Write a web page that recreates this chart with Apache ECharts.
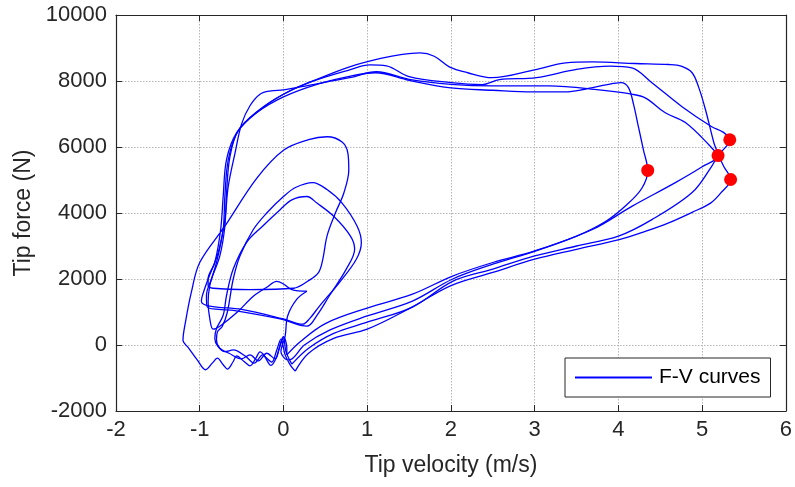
<!DOCTYPE html>
<html><head><meta charset="utf-8">
<script src="https://cdn.jsdelivr.net/npm/echarts@6/dist/echarts.min.js"></script>
<style>html,body{margin:0;padding:0;background:#fff}#c{width:795px;height:487px}</style>
</head><body><div id="c"></div>
<script>
// Tick values
const xTicks = [-2, -1, 0, 1, 2, 3, 4, 5, 6];
const yTicks = [-2000, 0, 2000, 4000, 6000, 8000, 10000];

// Cycle 1: hook start -> diagonal -> dot 1 -> top -> left bundle -> big inner loop -> wiggles
const curve1 = [
  [0.28,1630],[0.16,1390],[0.05,880],[0.02,270],[-0.03,-200],[0.02,-420],[0.07,-450],
  [0.25,0],[0.55,450],[1.0,880],[1.54,1330],[2.02,2000],[2.5,2450],[3.0,2840],[3.5,3300],
  [3.85,3750],[4.1,4250],[4.28,4750],[4.35,5290],
  [4.3,5900],[4.24,6600],[4.18,7300],[4.12,7800],[4.03,7950],[3.85,7880],[3.6,7750],[3.37,7670],
  [2.97,7670],[2.5,7720],[2.0,7790],[1.5,8020],[1.1,8250],[0.8,8150],[0.4,7900],[0.0,7520],
  [-0.32,7040],[-0.56,6430],[-0.68,5620],[-0.72,4500],[-0.75,3500],[-0.82,2500],[-0.9,2000],
  [-0.9,1800],[-0.84,1720],[-0.4,1680],[0.12,1720],[0.3,1950],[0.42,2200],[0.47,2600],
  [0.52,3300],[0.62,4000],[0.72,4600],[0.78,5300],[0.77,5800],[0.7,6150],[0.52,6310],
  [0.3,6220],[0.0,5900],[-0.32,5050],[-0.7,3600],[-1.0,2500],[-1.1,1600],[-1.17,700],
  [-1.2,150],[-1.13,-100],[-1.03,-450],[-0.93,-750],[-0.85,-550],[-0.79,-400],[-0.72,-600],
  [-0.67,-730],[-0.6,-500],[-0.56,-330],[-0.47,-500],[-0.4,-630],[-0.33,-400],[-0.28,-210],
  [-0.2,-400],[-0.14,-520],[-0.08,-150],[-0.03,180],[0.02,-300],[0.08,-600],[0.14,-790]
];

// Cycle 2: lower diagonal -> dot 4 -> through dot 2 -> top -> outer strand -> second loop
const curve2 = [
  [0.14,-790],[0.3,-250],[0.6,200],[1.0,480],[1.5,1100],[2.0,1800],[2.5,2200],[3.0,2600],
  [3.5,2900],[4.02,3200],[4.32,3440],[4.6,3700],[4.88,4020],[5.1,4300],[5.22,4600],[5.34,5015],
  [5.26,5400],[5.19,5740],[5.08,6070],[4.8,6740],[4.56,7040],[4.32,7490],[4.16,7600],
  [3.77,7730],[3.17,7850],[2.5,7850],[2.0,7900],[1.5,8050],[1.11,8280],[0.79,8100],
  [0.3,7870],[0.0,7730],[-0.15,7700],[-0.28,7600],[-0.4,7250],[-0.5,6700],[-0.58,5800],
  [-0.66,4800],[-0.7,3800],[-0.78,2800],[-0.9,2000],[-0.97,1480],[-0.98,1320],[-0.88,1180],
  [-0.5,1080],[0.0,790],[0.23,630],[0.31,790],[0.43,1180],[0.67,1900],[0.87,2600],
  [0.93,3100],[0.88,3600],[0.7,4300],[0.52,4710],[0.35,4920],[0.15,4780],[0.0,4500],
  [-0.2,4000],[-0.36,3500],[-0.52,2700],[-0.6,2000],[-0.67,1000],[-0.73,570],[-0.79,390],
  [-0.8,150],[-0.76,-100],[-0.65,-250],[-0.5,-420],[-0.4,-300],[-0.3,-480],[-0.2,-250],
  [-0.1,-420],[-0.05,-100],[0.0,220],[0.03,-200],[0.1,-580]
];

// Cycle 3: middle diagonal -> dot 3 -> top -> bundle -> third loop
const curve3 = [
  [0.1,-580],[0.3,-100],[0.6,350],[1.0,690],[1.54,1150],[2.02,1930],[2.5,2300],[3.0,2700],
  [3.5,3000],[4.0,3300],[4.4,3800],[4.88,4620],[5.11,5400],[5.19,5740],[5.33,6220],
  [5.25,6450],[5.11,6620],[4.76,7220],[4.4,7950],[4.16,8400],[3.9,8450],[3.5,8350],
  [3.02,8100],[2.58,8040],[2.37,7890],[2.0,7950],[1.5,8130],[1.23,8460],[1.03,8490],
  [0.79,8340],[0.3,7950],[0.0,7600],[-0.3,7100],[-0.54,6500],[-0.64,5700],[-0.68,4600],
  [-0.7,3600],[-0.76,2700],[-0.86,2000],[-0.92,1500],[-0.91,1150],[-0.6,1050],[-0.04,790],
  [0.28,570],[0.4,900],[0.55,1500],[0.75,2300],[0.85,2900],[0.8,3300],[0.6,3900],
  [0.4,4300],[0.28,4500],[0.1,4400],[-0.04,4100],[-0.25,3600],[-0.44,3110],[-0.6,2300],
  [-0.68,1500],[-0.72,900],[-0.8,500],[-0.82,200],[-0.78,-50],[-0.7,-200],[-0.6,-150],
  [-0.45,-350],[-0.35,-550],[-0.25,-300],[-0.15,-620],[-0.08,-350],[-0.03,100],[0.0,250],
  [0.04,-100],[0.04,-300]
];

// Cycle 4: upper diagonal -> dot 2 -> highest top -> bundle -> hook
const curve4 = [
  [0.04,-300],[0.2,100],[0.5,650],[1.0,1120],[1.54,1540],[2.02,2090],[2.5,2500],[3.0,2850],
  [3.69,3500],[4.16,4200],[4.68,4920],[5.0,5400],[5.19,5740],
  [5.14,6130],[5.04,7130],[4.96,7800],[4.88,8250],[4.75,8450],[4.6,8500],[4.2,8530],
  [3.69,8580],[3.37,8550],[3.0,8340],[2.49,8100],[2.2,8250],[1.98,8430],[1.8,8750],
  [1.63,8850],[1.4,8800],[1.19,8700],[0.79,8430],[0.4,8050],[0.0,7600],[-0.3,7100],
  [-0.55,6450],[-0.66,5600],[-0.7,4500],[-0.72,3500],[-0.8,2500],[-0.88,1800],[-0.9,1300],
  [-0.88,800],[-0.84,480],[-0.76,570],[-0.55,1000],[-0.36,1480],[-0.2,1750],[-0.08,1930],
  [0.0,1850],[0.1,1680],[0.28,1630]
];

// Red markers
const markers = [[4.35,5290],[5.19,5740],[5.33,6220],[5.34,5015]];

const seriesName = 'F-V curves';
const curves = [curve1, curve2, curve3, curve4];
const FONT = 'Liberation Sans, Arial, Helvetica, sans-serif';
const axisCol = '#262626';

const chart = echarts.init(document.getElementById('c'), null, {renderer: 'canvas'});
const lineSeries = curves.map(c => ({
  name: seriesName, type: 'line', data: c, smooth: 0.35, symbol: 'none',
  lineStyle: {color: '#0000ff', width: 1.3}, itemStyle: {color: '#0000ff'},
  z: 2, silent: true
}));
const commonAxis = {
  axisLine: {show: true, onZero: false, lineStyle: {color: axisCol, width: 1.2}},
  axisTick: {show: true, inside: true, length: 6, lineStyle: {color: axisCol}},
};
const plainFmt = v => String(v);
chart.setOption({
  animation: false,
  backgroundColor: '#ffffff',
  grid: {left: 116, right: 8, top: 15, bottom: 76, containLabel: false},
  legend: {
    data: [{name: seriesName, icon: 'rect'}], left: 565, top: 358, orient: 'vertical',
    padding: [9, 10, 9, 10], itemWidth: 77, itemHeight: 2, itemGap: 0,
    backgroundColor: '#ffffff', borderColor: axisCol, borderWidth: 1,
    textStyle: {fontSize: 21, fontFamily: FONT, color: '#000', padding: [0, 0, 0, 2]}
  },
  xAxis: [
    Object.assign({
      type: 'value', min: xTicks[0], max: xTicks[xTicks.length-1], interval: 1, position: 'bottom',
      name: 'Tip velocity (m/s)', nameLocation: 'middle', nameGap: 43,
      nameTextStyle: {fontSize: 23, fontFamily: FONT, color: axisCol},
      axisLabel: {fontSize: 22, fontFamily: FONT, color: axisCol, margin: 8, formatter: plainFmt},
      splitLine: {show: true, lineStyle: {color: '#b5b5b5', type: [1.5, 1.5], width: 1}}
    }, commonAxis),
    Object.assign({
      type: 'value', min: xTicks[0], max: xTicks[xTicks.length-1], interval: 1, position: 'top',
      axisLabel: {show: false}, splitLine: {show: false}
    }, commonAxis)
  ],
  yAxis: [
    Object.assign({
      type: 'value', min: yTicks[0], max: yTicks[yTicks.length-1], interval: 2000, position: 'left',
      name: 'Tip force (N)', nameLocation: 'middle', nameGap: 73, nameRotate: 90,
      nameTextStyle: {fontSize: 23, fontFamily: FONT, color: axisCol},
      axisLabel: {fontSize: 22, fontFamily: FONT, color: axisCol, margin: 9, formatter: plainFmt},
      splitLine: {show: true, lineStyle: {color: '#b5b5b5', type: [1.5, 1.5], width: 1}}
    }, commonAxis),
    Object.assign({
      type: 'value', min: yTicks[0], max: yTicks[yTicks.length-1], interval: 2000, position: 'right',
      axisLabel: {show: false}, splitLine: {show: false}
    }, commonAxis)
  ],
  series: lineSeries.concat([{
    name: 'markers', type: 'scatter', data: markers, symbol: 'circle', symbolSize: 13,
    itemStyle: {color: '#ff0000', opacity: 1}, z: 5, silent: true
  }])
});
</script></body></html>
